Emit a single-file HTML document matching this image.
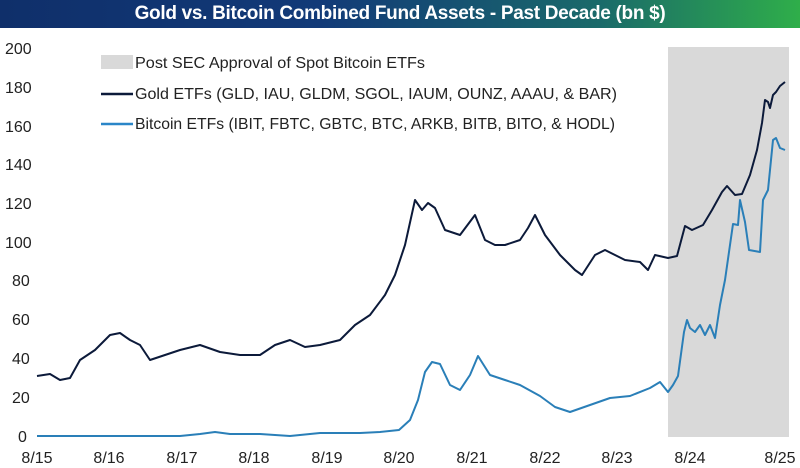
<!DOCTYPE html><html><head><style>
body{margin:0;width:800px;height:468px;background:#fff;overflow:hidden;font-family:"Liberation Sans",sans-serif}
.t{position:absolute;left:0;top:0;width:800px;height:28px;background:linear-gradient(90deg,#0f2f6a 0%,#123a78 40%,#1a6a6a 75%,#2fae4a 100%);color:#fff;font-weight:bold;font-size:19px;text-align:center;line-height:28px;letter-spacing:-0.3px}
</style></head><body>
<div class="t">Gold vs. Bitcoin Combined Fund Assets - Past Decade (bn $)</div>
<svg width="800" height="468" style="position:absolute;left:0;top:0">
<rect x="668" y="47" width="121" height="390" fill="#d9d9d9"/>
<g font-size="16" fill="#222" font-family="Liberation Sans,sans-serif">
<text x="5" y="54">200</text><text x="5" y="93">180</text><text x="5" y="132">160</text><text x="5" y="170">140</text><text x="5" y="209">120</text><text x="5" y="248">100</text><text x="12" y="286">80</text><text x="12" y="325">60</text><text x="12" y="364">40</text><text x="12" y="403">20</text><text x="18" y="442">0</text>
<g text-anchor="middle"><text x="37" y="463">8/15</text><text x="109" y="463">8/16</text><text x="182" y="463">8/17</text><text x="254" y="463">8/18</text><text x="327" y="463">8/19</text><text x="399" y="463">8/20</text><text x="472" y="463">8/21</text><text x="545" y="463">8/22</text><text x="617" y="463">8/23</text><text x="690" y="463">8/24</text><text x="780" y="463">8/25</text></g>
<rect x="101" y="55" width="32" height="14" fill="#d9d9d9"/>
<text x="135" y="68" textLength="290" lengthAdjust="spacingAndGlyphs">Post SEC Approval of Spot Bitcoin ETFs</text>
<line x1="101" y1="94" x2="133" y2="94" stroke="#0c1a3a" stroke-width="2.5"/>
<text x="135" y="99" textLength="482" lengthAdjust="spacingAndGlyphs">Gold ETFs (GLD, IAU, GLDM, SGOL, IAUM, OUNZ, AAAU, &amp; BAR)</text>
<line x1="101" y1="124" x2="133" y2="124" stroke="#2a86c8" stroke-width="2.5"/>
<text x="135" y="129" textLength="480" lengthAdjust="spacingAndGlyphs">Bitcoin ETFs (IBIT, FBTC, GBTC, BTC, ARKB, BITB, BITO, &amp; HODL)</text>
</g>
<polyline fill="none" stroke="#0c1a3a" stroke-width="2" stroke-linejoin="round" points="37,376 50,374 60,380 70,378 80,360 95,350 110,335 120,333 130,340 140,345 150,360 165,355 180,350 200,345 220,352 240,355 260,355 275,345 290,340 305,347 320,345 340,340 355,325 370,315 385,295 395,275 405,245 415,200 422,210 428,203 435,208 445,230 460,235 475,215 485,240 495,245 505,245 520,240 528,228 535,215 545,235 560,255 575,270 582,275 595,255 605,250 615,255 625,260 640,262 648,270 655,255 668,258 677,256 685,226 692,230 703,225 712,210 722,192 727,186 735,195 742,194 750,175 757,150 762,123 765,100 768,102 770,108 773,95 776,92 780,86 785,82"/>
<polyline fill="none" stroke="#2a7fb8" stroke-width="2" stroke-linejoin="round" points="37,436 180,436 200,434 215,432 230,434 260,434 290,436 320,433 360,433 380,432 399,430 410,420 418,400 425,372 432,362 440,364 450,385 460,390 470,375 478,356 490,375 505,380 520,385 540,396 555,407 570,412 590,405 610,398 630,396 650,388 660,382 668,392 673,385 678,376 684,332 687,320 690,328 695,332 700,325 705,335 710,325 715,338 720,305 725,280 733,224 738,225 740,200 745,222 749,250 760,252 763,200 768,190 773,140 776,138 780,148 785,150"/>
</svg>
</body></html>
